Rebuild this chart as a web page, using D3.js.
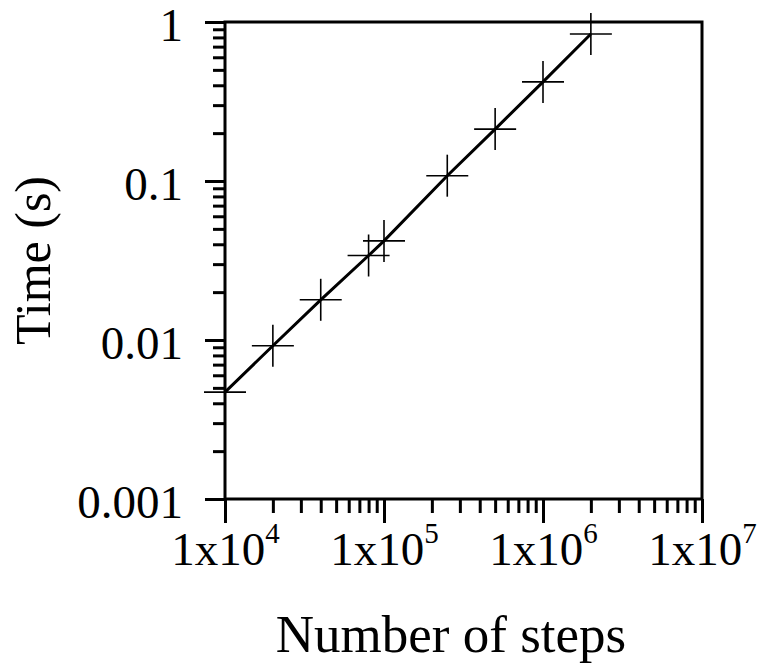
<!DOCTYPE html>
<html>
<head>
<meta charset="utf-8">
<script src="https://cdn.jsdelivr.net/npm/d3@7"></script>
<style>
  body { margin: 0; background: #fff; }
  text { font-family: "Liberation Serif", "Times New Roman", serif; fill: #000; }
</style>
</head>
<body>
<div id="chart"></div>
<script>
// data
var steps = [1e4, 2e4, 4e4, 8e4, 1e5, 2.5e5, 5e5, 1e6, 2e6];
var times = [0.0047, 0.0092, 0.0179, 0.034, 0.042, 0.108, 0.212, 0.42, 0.84];
var xExponents = [4, 5, 6, 7];
var yTickValues = [0.001, 0.01, 0.1, 1];
var yTickLabels = ["0.001", "0.01", "0.1", "1"];

var width = 762, height = 672;
var margin = { top: 22, right: 60, bottom: 173, left: 225 };

var svg = d3.select("#chart").append("svg")
    .attr("width", width)
    .attr("height", height);

var x = d3.scaleLog()
    .domain([1e4, 1e7])
    .range([margin.left, width - margin.right]);

var y = d3.scaleLog()
    .domain([0.001, 1])
    .range([height - margin.bottom, margin.top]);

var isPow10 = d => Math.abs(Math.log10(d) - Math.round(Math.log10(d))) < 1e-9;
var minorX = x.ticks().filter(d => !isPow10(d));
var minorY = y.ticks().filter(d => !isPow10(d));

// minor ticks
svg.append("g")
    .attr("transform", `translate(0,${y.range()[0]})`)
    .call(d3.axisBottom(x).tickValues(minorX).tickSize(14).tickSizeOuter(0).tickFormat(""))
    .call(g => g.select(".domain").remove())
    .selectAll("line").attr("stroke", "#000").attr("stroke-width", 3);

svg.append("g")
    .attr("transform", `translate(${x.range()[0]},0)`)
    .call(d3.axisLeft(y).tickValues(minorY).tickSize(12).tickSizeOuter(0).tickFormat(""))
    .call(g => g.select(".domain").remove())
    .selectAll("line").attr("stroke", "#000").attr("stroke-width", 3);

// major ticks
var xAxis = svg.append("g")
    .attr("transform", `translate(0,${y.range()[0]})`)
    .call(d3.axisBottom(x).tickValues(xExponents.map(e => Math.pow(10, e))).tickSize(24).tickSizeOuter(0).tickFormat(""))
    .call(g => g.select(".domain").remove());
xAxis.selectAll("line").attr("stroke", "#000").attr("stroke-width", 3);

var xLab = xAxis.selectAll(".tick").append("text")
    .attr("y", 66)
    .attr("text-anchor", "middle")
    .style("font-size", "47px");
xLab.append("tspan").text("1x10");
xLab.append("tspan")
    .attr("dy", -22)
    .style("font-size", "29px")
    .text((d, i) => xExponents[i]);

var yAxis = svg.append("g")
    .attr("transform", `translate(${x.range()[0]},0)`)
    .call(d3.axisLeft(y).tickValues(yTickValues).tickSize(20).tickSizeOuter(0).tickFormat((d, i) => yTickLabels[i]))
    .call(g => g.select(".domain").remove());
yAxis.selectAll("line").attr("stroke", "#000").attr("stroke-width", 3);
yAxis.selectAll("text")
    .attr("x", -42)
    .attr("dy", "0.4em")
    .attr("fill", "#000")
    .style("font-family", "'Liberation Serif', serif")
    .style("font-size", "47px");

// frame
svg.append("rect")
    .attr("x", x.range()[0])
    .attr("y", y.range()[1])
    .attr("width", x.range()[1] - x.range()[0])
    .attr("height", y.range()[0] - y.range()[1])
    .attr("fill", "none")
    .attr("stroke", "#000")
    .attr("stroke-width", 3);

// line through the points
var pts = steps.map((s, i) => [s, times[i]]);
svg.append("path")
    .datum(pts)
    .attr("fill", "none")
    .attr("stroke", "#000")
    .attr("stroke-width", 3)
    .attr("d", d3.line().x(d => x(d[0])).y(d => y(d[1])));

// cross markers
var r = 21;
var marks = svg.append("g").attr("stroke", "#000").attr("stroke-width", 1.6)
    .selectAll("g")
    .data(pts)
    .enter().append("g")
    .attr("transform", d => `translate(${x(d[0])},${y(d[1])})`);
marks.append("line").attr("x1", -r).attr("x2", r);
marks.append("line").attr("y1", -r).attr("y2", r);

// axis titles
svg.append("text")
    .attr("x", 451)
    .attr("y", 652)
    .attr("text-anchor", "middle")
    .style("font-size", "53px")
    .text("Number of steps");

svg.append("text")
    .attr("transform", `translate(50,${(y.range()[0] + y.range()[1]) / 2}) rotate(-90)`)
    .attr("text-anchor", "middle")
    .style("font-size", "50px")
    .text("Time (s)");
</script>
</body>
</html>
